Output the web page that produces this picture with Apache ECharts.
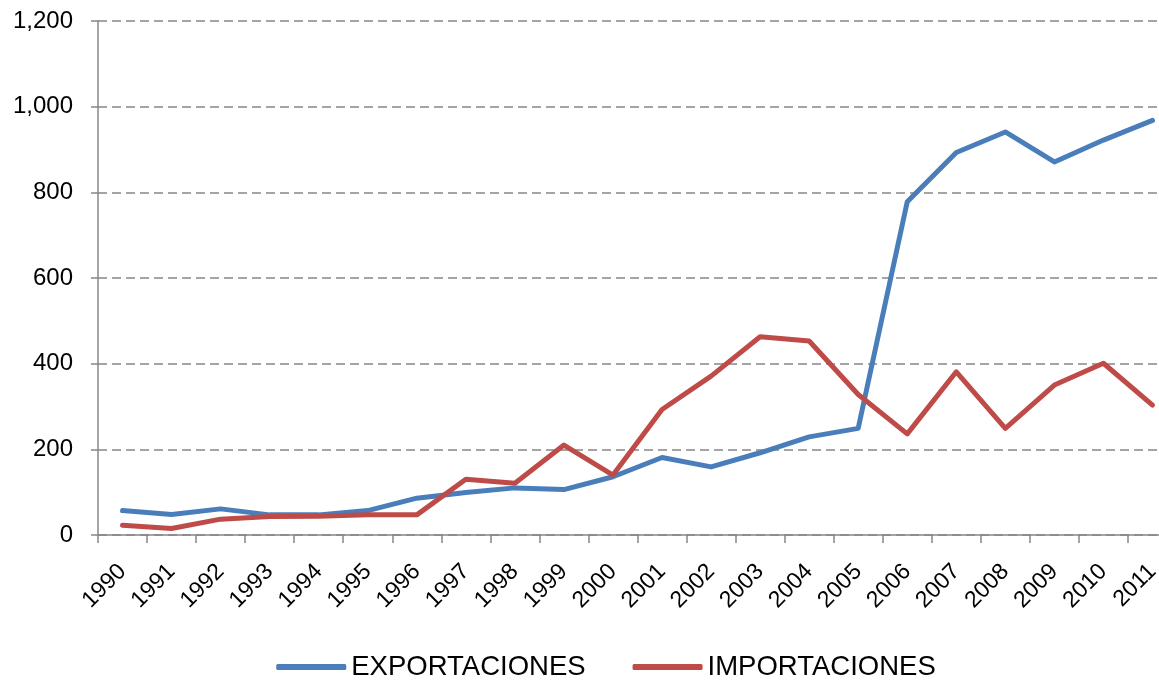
<!DOCTYPE html>
<html>
<head>
    <meta charset="UTF-8">
    <title>Exportaciones e importaciones 1990-2011</title>
    <script src="https://cdn.jsdelivr.net/npm/echarts@6/dist/echarts.min.js"></script>
    <style>
        html, body { margin: 0; padding: 0; background: #fff; overflow: hidden; }
        /* el original esta recortado por la derecha: el lienzo es mas ancho que la ventana */
        #chart { width: 1212px; height: 683px; }
    </style>
</head>
<body>
<div id="chart"></div>
<script>
    // datos
    var years = ['1990', '1991', '1992', '1993', '1994', '1995', '1996', '1997', '1998', '1999', '2000',
        '2001', '2002', '2003', '2004', '2005', '2006', '2007', '2008', '2009', '2010', '2011'];
    var exportaciones = [57, 48, 61, 47, 47, 57, 86, 99, 110, 106, 136,
        181, 159, 192, 229, 249, 778, 893, 941, 871, 922, 968];
    var importaciones = [23, 15, 37, 43, 44, 47, 47, 130, 121, 210, 140,
        293, 371, 463, 453, 328, 236, 381, 249, 350, 401, 303];

    var myChart = echarts.init(document.getElementById('chart'));

    var option = {
        animation: false,
        grid: {
            left: 98,
            top: 21,
            width: 1079,
            height: 514,
            containLabel: false
        },
        legend: {
            top: 648,
            left: 'center',
            icon: 'roundRect',
            itemWidth: 70,
            itemHeight: 6,
            itemGap: 47,
            textStyle: {
                fontFamily: 'Liberation Sans, Arial, sans-serif',
                fontSize: 27.5,
                color: '#000'
            },
            data: ['EXPORTACIONES', 'IMPORTACIONES']
        },
        xAxis: {
            type: 'category',
            data: years,
            boundaryGap: true,
            axisLine: { lineStyle: { color: '#878787', width: 1.5 } },
            axisTick: { show: true, length: 8, lineStyle: { color: '#878787', width: 1.5 } },
            axisLabel: {
                rotate: 45,
                interval: 0,
                margin: 33,
                fontFamily: 'Liberation Sans, Arial, sans-serif',
                fontSize: 23,
                color: '#000'
            }
        },
        yAxis: {
            type: 'value',
            min: 0,
            max: 1200,
            interval: 200,
            axisLine: { show: true, lineStyle: { color: '#878787', width: 1.5 } },
            axisTick: { show: true, length: 7, lineStyle: { color: '#878787', width: 1.5 } },
            axisLabel: {
                margin: 25,
                fontFamily: 'Liberation Sans, Arial, sans-serif',
                fontSize: 24,
                color: '#000',
                formatter: function (v) {
                    return v.toLocaleString('en-US');
                }
            },
            splitLine: {
                show: true,
                lineStyle: { color: '#878787', type: [9, 5], width: 1.5 }
            }
        },
        series: [
            {
                name: 'EXPORTACIONES',
                type: 'line',
                data: exportaciones,
                symbol: 'none',
                color: '#4A7EBB',
                lineStyle: { width: 5, cap: 'round', join: 'round' }
            },
            {
                name: 'IMPORTACIONES',
                type: 'line',
                data: importaciones,
                symbol: 'none',
                color: '#BE4B48',
                lineStyle: { width: 5, cap: 'round', join: 'round' }
            }
        ]
    };
    myChart.setOption(option);
</script>
</body>
</html>
